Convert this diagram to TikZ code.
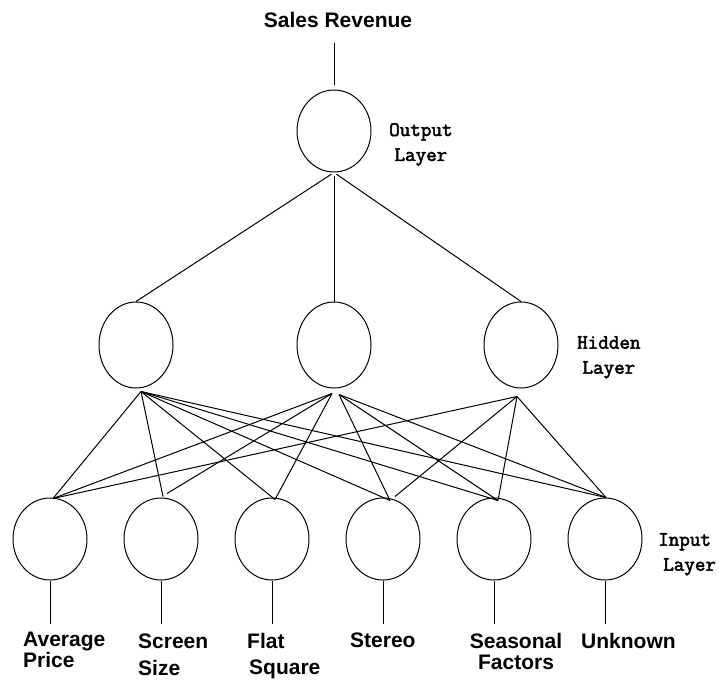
\documentclass[tikz,border=0pt]{standalone}
\usepackage{fontspec}
\setmainfont{Liberation Sans}
\newfontfamily\layerfont[AutoFakeBold=2.5]{Latin Modern Mono}
\usetikzlibrary{shapes.geometric}

\tikzset{
  neuron/.style={draw, ellipse, line width=1pt, minimum width=74pt, minimum height=82pt, inner sep=0pt},
  varname/.style={font=\bfseries\fontsize{21}{21}\selectfont, inner sep=0pt, anchor=north west, align=left},
  layername/.style={font=\layerfont\bfseries\fontsize{20.5}{25}\selectfont, inner sep=0pt, anchor=north west},
  link/.style={line width=1pt},
}

\begin{document}
\begin{tikzpicture}[x=1pt,y=-1pt]
        \useasboundingbox (0,0) rectangle (719,679);
        % layers
        \node[neuron] (out) at (334,131) {};
        \node[neuron,minimum height=86pt] (h1) at (136,345) {};
        \node[neuron,minimum height=86pt] (h2) at (334,345) {};
        \node[neuron,minimum height=86pt] (h3) at (521,345) {};
        \foreach \x [count=\i] in {50,161,272,383,494,605}
            \node[neuron] (i\i) at (\x,539) {};
        % texts
        \node[varname,anchor=north] (rev) at (338,12) {Sales Revenue};
        \node[varname] (avg) at (23,632) {Average\\Price};
        \node[varname] (scr) at (138,634) {Screen\\[6pt]Size};
        \node[varname] (flat) at (247,633) {Flat\\[5pt]\hspace*{2pt}Square};
        \node[varname] (ster) at (350,633) {Stereo};
        \node[varname,align=center,anchor=north] (seas) at (516,633) {Seasonal\\Factors};
        \node[varname] (unk) at (581,633) {Unknown};
        \node[layername,align=center] (outlbl) at (389,123) {Output\\Layer};
        \node[layername,align=center] (hidlbl) at (577,336) {Hidden\\Layer};
        \node[layername,align=left] (inlbl) at (658,533) {Input\\\hspace*{5pt}Layer};
        % line ends
        \coordinate (h1b) at ([shift={(5,3)}]h1.south);
        \coordinate (h2l) at ([shift={(-2,5)}]h2.south);
        \coordinate (h2r) at ([shift={(5,6)}]h2.south);
        \coordinate (h3b) at ([shift={(-4,8)}]h3.south);
        \coordinate (i1t) at ([shift={(3,1)}]i1.north);
        \coordinate (i2a) at ([shift={(2,-1)}]i2.north);
        \coordinate (i2b) at ([shift={(6,-4)}]i2.north);
        \coordinate (i3t) at ([shift={(3,2)}]i3.north);
        \coordinate (i4a) at ([shift={(7,3)}]i4.north);
        \coordinate (i4b) at ([shift={(12,-1)}]i4.north);
        \coordinate (i5t) at ([shift={(4,3)}]i5.north);
        \coordinate (i6t) at ([shift={(1,0)}]i6.north);
        % links
        \draw[link,shorten <=15pt,shorten >=4pt] (out.north |- rev.south) -- (out.north);
        \foreach \h in {h1,h2,h3}
            \draw[link,shorten <=3pt] (out.south) -- (\h.north);
        \foreach \t in {i1t,i2a,i3t,i4a,i5t,i6t}
            \draw[link] (h1b) -- (\t);
        \foreach \t in {i1t,i2b,i3t}
            \draw[link] (h2l) -- (\t);
        \foreach \t in {i4a,i5t,i6t}
            \draw[link] (h2r) -- (\t);
        \foreach \t in {i1t,i4b,i5t,i6t}
            \draw[link] (h3b) -- (\t);
        \foreach \i in {1,...,6}{
            \coordinate (e\i) at ([yshift=-43pt]i\i.south);
            \draw[link] (i\i.south) -- (e\i);
        }
    \end{tikzpicture}
\end{document}
